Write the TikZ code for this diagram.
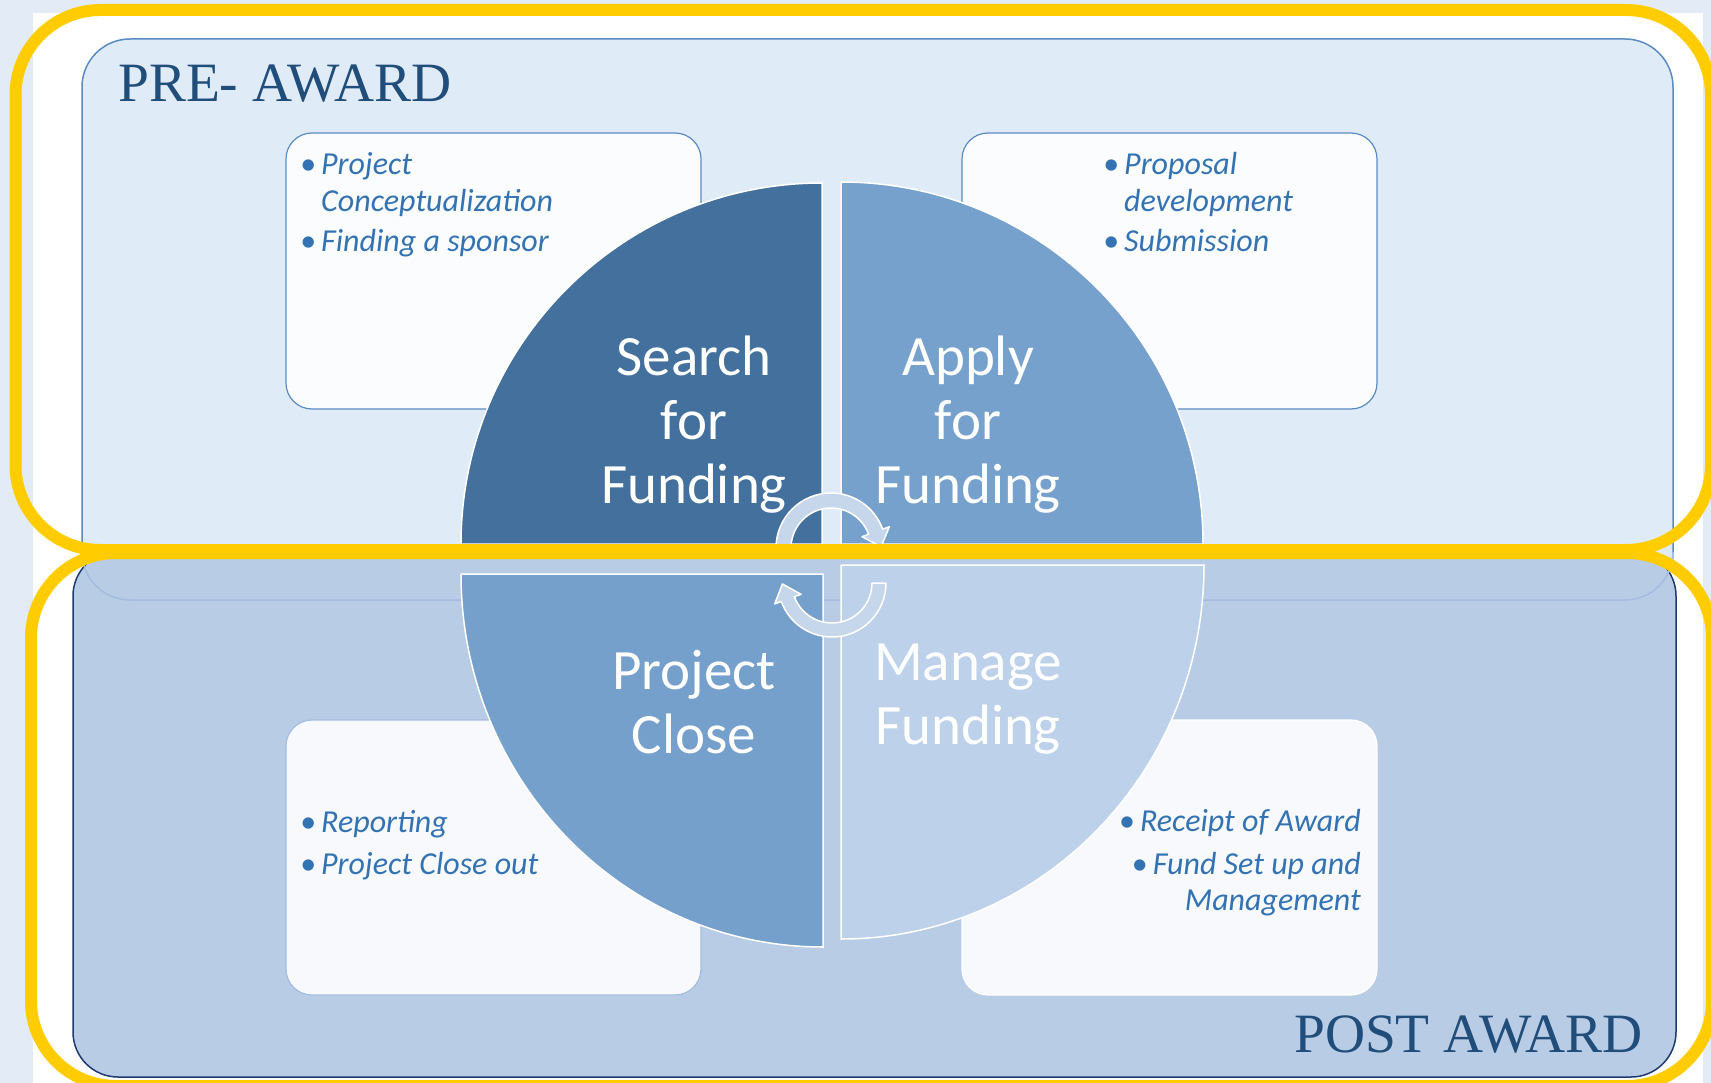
\documentclass[tikz,border=0pt]{standalone}
\usepackage{fontspec}
\setmainfont{Liberation Serif}
\newfontfamily\calfont{Carlito}
\definecolor{bgblue}{HTML}{E2EBF6}
\definecolor{prefill}{HTML}{DFEBF7}
\definecolor{preline}{HTML}{5B8BC4}
\definecolor{postfill}{HTML}{B9CCE6}
\definecolor{postline}{HTML}{1F3A6E}
\definecolor{faint}{HTML}{A3BCDF}
\definecolor{yel}{HTML}{FFCC00}
\definecolor{sfcol}{HTML}{44709E}
\definecolor{afcol}{HTML}{76A1CD}
\definecolor{pccol}{HTML}{76A0CC}
\definecolor{mfcol}{HTML}{BDD1EA}
\definecolor{arrcol}{HTML}{C6D6EB}
\definecolor{titlecol}{HTML}{204D7A}
\definecolor{bultext}{HTML}{3473B3}
\definecolor{tboxfill}{HTML}{FAFCFE}
\definecolor{tboxfillb}{HTML}{F7F9FD}
\newcommand\bdot{\llap{{\upshape •}\hspace{5pt}}}
\begin{document}
\begin{tikzpicture}[x=1pt,y=1pt,
  prebox/.style={fill=prefill,draw=preline,line width=1.5pt,rounded corners=48pt},
  postbox/.style={fill=postfill,draw=postline,line width=1.5pt,rounded corners=45pt},
  faintline/.style={draw=faint,line width=1.5pt},
  tbox/.style={fill=tboxfill,draw=preline,line width=1.2pt,rounded corners=26pt},
  tboxb/.style={fill=tboxfillb,draw=faint,line width=1.2pt,rounded corners=26pt},
  tboxc/.style={fill=tboxfillb,draw=white,line width=1.2pt,rounded corners=26pt},
  pie/.style={draw=white,line width=1.5pt},
  cyc/.style={fill=arrcol,draw=white,line width=1.5pt,line join=round},
  yframe/.style={draw=yel,line width=12pt,rounded corners=85pt},
  qlabel/.style={inner sep=0pt,anchor=base,text=white,font=\calfont\fontsize{57}{64}\selectfont},
  btxt/.style={inner sep=0pt,anchor=base west,text=bultext,font=\calfont\itshape\fontsize{32}{37}\selectfont},
  btxtr/.style={inner sep=0pt,anchor=base east,text=bultext,font=\calfont\itshape\fontsize{32}{37}\selectfont},
  title/.style={inner sep=0pt,text=titlecol,font=\fontsize{55.5}{60}\selectfont}
]
\useasboundingbox (0,0) rectangle (1711,-1083);
\fill[bgblue] (0,0) rectangle (1711,-1083);
\fill[white] (33,-13) rectangle (1703,-1083);

% section boxes
\path[prebox] (82,-39) rectangle (1673,-600);
\path[postbox] (73,-551) rectangle (1676,-1077);
\draw[faintline] (82,-559) -- (82,-552) arc[start angle=180,end angle=270,radius=48]
  -- (1625,-600) arc[start angle=270,end angle=360,radius=48] -- (1673,-559);

% titles
\node[title,anchor=base west] (pre) at (118,-102) {PRE- AWARD};
\node[title,anchor=base east] (post) at (1643,-1052) {POST AWARD};

% text boxes
\path[tbox] (286,-133) rectangle (701,-409);
\path[tbox] (962,-133) rectangle (1377,-409);
\path[tboxb] (286,-720) rectangle (701,-995);
\path[tboxc] (962,-720) rectangle (1377,-995);

\node[btxt] (b1a) at (321,-175) {\bdot Project};
\node[btxt] (b1b) at (321,-212) {Conceptualization};
\node[btxt] (b1c) at (321,-252) {\bdot Finding a sponsor};
\node[btxt] (b2a) at (1124,-175) {\bdot Proposal};
\node[btxt] (b2b) at (1124,-212) {development};
\node[btxt] (b2c) at (1124,-252) {\bdot Submission};
\node[btxt] (b3a) at (321,-832) {\bdot Reporting};
\node[btxt] (b3b) at (321,-874) {\bdot Project Close out};
\node[btxtr] (b4a) at (1361,-831) {{\upshape •}\hspace{5pt}Receipt of Award};
\node[btxtr] (b4b) at (1361,-874) {{\upshape •}\hspace{5pt}Fund Set up and};
\node[btxtr] (b4c) at (1361,-910) {Management};

% quarter pies
\filldraw[pie,fill=sfcol] (822,-544) -- (461,-544) arc[start angle=180,end angle=90,radius=361] -- cycle;
\filldraw[pie,fill=afcol] (841,-544) -- (841,-182) arc[start angle=90,end angle=0,radius=362] -- cycle;
\filldraw[pie,fill=pccol] (823,-574) -- (461,-574) arc[start angle=180,end angle=270,x radius=362,y radius=373] -- cycle;
\filldraw[pie,fill=mfcol] (841,-565) -- (1204,-565) arc[start angle=0,end angle=-90,x radius=363,y radius=374] -- cycle;

% quarter labels
\node[qlabel] (sf1) at (694,-375) {Search};
\node[qlabel] (sf2) at (694,-439) {for};
\node[qlabel] (sf3) at (694,-503) {Funding};
\node[qlabel] (af1) at (968,-375) {Apply};
\node[qlabel] (af2) at (968,-439) {for};
\node[qlabel] (af3) at (968,-503) {Funding};
\node[qlabel] (pc1) at (694,-689) {Project};
\node[qlabel] (pc2) at (694,-753) {Close};
\node[qlabel] (mf1) at (968,-680) {Manage};
\node[qlabel] (mf2) at (968,-744) {Funding};

% cycle arrows
\filldraw[cyc] (776,-548) arc[start angle=180,end angle=20,radius=55]
  -- (889.3,-526.8) -- (881.1,-546.8) -- (862.0,-536.7) -- (868.6,-534.3)
  arc[start angle=20,end angle=180,radius=40] -- cycle;
\filldraw[cyc] (886,-583) arc[start angle=0,end angle=-160,radius=54]
  -- (774.7,-603.9) -- (782.4,-584.0) -- (801.0,-594.3) -- (794.4,-596.7)
  arc[start angle=-160,end angle=0,radius=40] -- cycle;

% yellow frames
\path[yframe] (15.5,-10) rectangle (1711,-550);
\path[yframe] (31,-553) rectangle (1712,-1086);
\end{tikzpicture}
\end{document}
